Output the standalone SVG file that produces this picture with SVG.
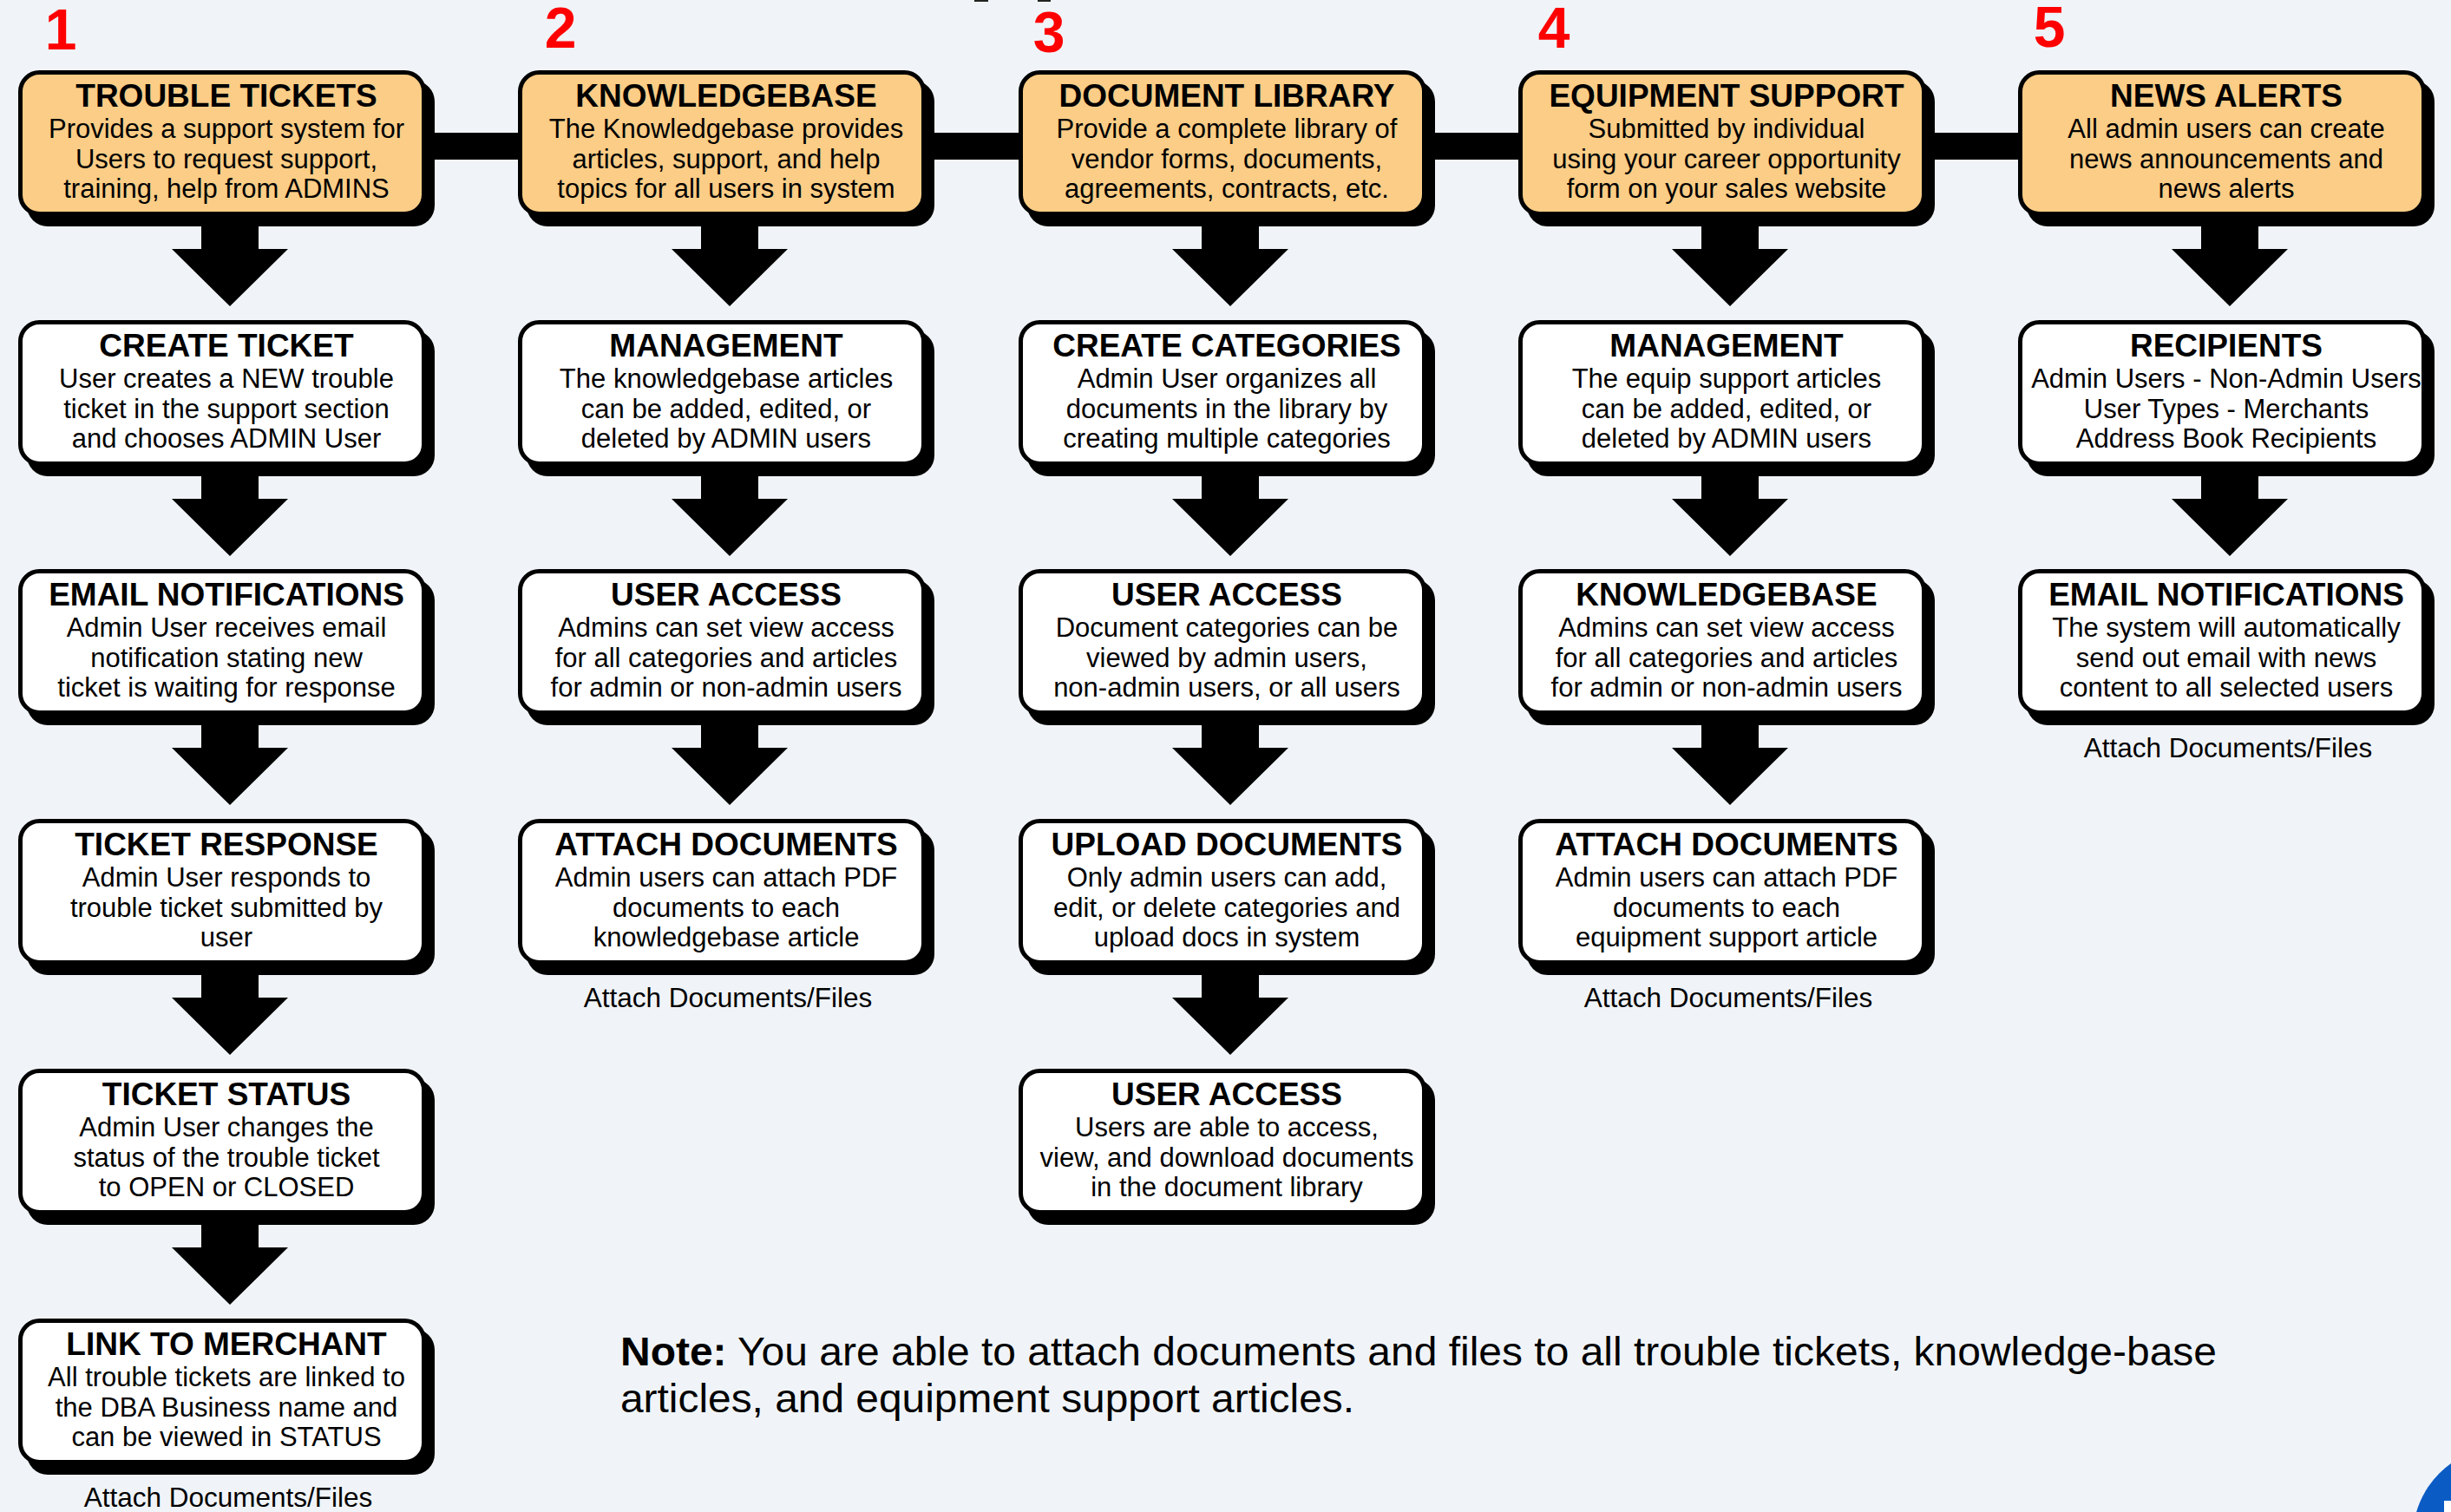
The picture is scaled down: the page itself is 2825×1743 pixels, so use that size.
<svg xmlns="http://www.w3.org/2000/svg" xmlns:xlink="http://www.w3.org/1999/xlink" width="2825" height="1743" viewBox="0 0 2825 1743">
  <style>
    .shadow { fill: #000; }
    .head { fill: #fbcd86; stroke: #000; stroke-width: 5; }
    .step { fill: #fff; stroke: #000; stroke-width: 5; }
    text { font-family: "Liberation Sans", Arial, Helvetica, sans-serif; fill: #000; }
    .t { font-weight: bold; font-size: 37px; text-anchor: middle; }
    .b { font-size: 31px; text-anchor: middle; }
    .att { font-size: 31.5px; text-anchor: middle; }
    .num { font-weight: bold; font-size: 66px; fill: #ff0000; text-anchor: middle; }
    .note { font-size: 47px; }
    .bar { fill: #000; }
  </style>
  <defs>
    <!-- block arrow, origin = centre x / top of the source box -->
    <path id="down" d="M -33 170 H 33 V 206 H 67 L 0 272 L -67 206 H -33 Z" fill="#000"/>
  </defs>

  <rect x="0" y="0" width="2825" height="1743" fill="#f0f4f8"/>

  <!-- clipped marks along the top edge -->
  <rect x="1123" y="0" width="16" height="2" fill="#222"/>
  <rect x="1196" y="0" width="15" height="2" fill="#222"/>

  <!-- section numbers -->
  <g id="numbers">
    <text class="num" x="70" y="57">1</text>
    <text class="num" x="646" y="55">2</text>
    <text class="num" x="1209" y="60">3</text>
    <text class="num" x="1791" y="55">4</text>
    <text class="num" x="2362" y="54">5</text>
  </g>

  <!-- connectors -->
  <g id="connectors">
    <rect class="bar" x="480" y="153" width="1860" height="31"/>
    <!-- column 1 -->
    <use xlink:href="#down" href="#down" x="265" y="81"/>
    <use xlink:href="#down" href="#down" x="265" y="369"/>
    <use xlink:href="#down" href="#down" x="265" y="656"/>
    <use xlink:href="#down" href="#down" x="265" y="944"/>
    <use xlink:href="#down" href="#down" x="265" y="1232"/>
    <!-- column 2 -->
    <use xlink:href="#down" href="#down" x="841" y="81"/>
    <use xlink:href="#down" href="#down" x="841" y="369"/>
    <use xlink:href="#down" href="#down" x="841" y="656"/>
    <!-- column 3 -->
    <use xlink:href="#down" href="#down" x="1418" y="81"/>
    <use xlink:href="#down" href="#down" x="1418" y="369"/>
    <use xlink:href="#down" href="#down" x="1418" y="656"/>
    <use xlink:href="#down" href="#down" x="1418" y="944"/>
    <!-- column 4 -->
    <use xlink:href="#down" href="#down" x="1994" y="81"/>
    <use xlink:href="#down" href="#down" x="1994" y="369"/>
    <use xlink:href="#down" href="#down" x="1994" y="656"/>
    <!-- column 5 -->
    <use xlink:href="#down" href="#down" x="2570" y="81"/>
    <use xlink:href="#down" href="#down" x="2570" y="369"/>
  </g>

  <!-- ===== Column 1 : trouble tickets ===== -->
  <g id="trouble-tickets" transform="translate(21,81)">
    <rect class="shadow" x="10" y="12" width="470" height="168" rx="24"/>
    <rect class="head" x="2.5" y="2.5" width="465" height="163" rx="22"/>
    <text class="t" x="240" y="42">TROUBLE TICKETS</text>
    <text class="b" x="240" y="78">Provides a support system for</text>
    <text class="b" x="240" y="112.5">Users to request support,</text>
    <text class="b" x="240" y="147">training, help from ADMINS</text>
  </g>
  <g id="create-ticket" transform="translate(21,369)">
    <rect class="shadow" x="10" y="12" width="470" height="168" rx="24"/>
    <rect class="step" x="2.5" y="2.5" width="465" height="163" rx="22"/>
    <text class="t" x="240" y="42">CREATE TICKET</text>
    <text class="b" x="240" y="78">User creates a NEW trouble</text>
    <text class="b" x="240" y="112.5">ticket in the support section</text>
    <text class="b" x="240" y="147">and chooses ADMIN User</text>
  </g>
  <g id="ticket-email-notifications" transform="translate(21,656)">
    <rect class="shadow" x="10" y="12" width="470" height="168" rx="24"/>
    <rect class="step" x="2.5" y="2.5" width="465" height="163" rx="22"/>
    <text class="t" x="240" y="42">EMAIL NOTIFICATIONS</text>
    <text class="b" x="240" y="78">Admin User receives email</text>
    <text class="b" x="240" y="112.5">notification stating new</text>
    <text class="b" x="240" y="147">ticket is waiting for response</text>
  </g>
  <g id="ticket-response" transform="translate(21,944)">
    <rect class="shadow" x="10" y="12" width="470" height="168" rx="24"/>
    <rect class="step" x="2.5" y="2.5" width="465" height="163" rx="22"/>
    <text class="t" x="240" y="42">TICKET RESPONSE</text>
    <text class="b" x="240" y="78">Admin User responds to</text>
    <text class="b" x="240" y="112.5">trouble ticket submitted by</text>
    <text class="b" x="240" y="147">user</text>
  </g>
  <g id="ticket-status" transform="translate(21,1232)">
    <rect class="shadow" x="10" y="12" width="470" height="168" rx="24"/>
    <rect class="step" x="2.5" y="2.5" width="465" height="163" rx="22"/>
    <text class="t" x="240" y="42">TICKET STATUS</text>
    <text class="b" x="240" y="78">Admin User changes the</text>
    <text class="b" x="240" y="112.5">status of the trouble ticket</text>
    <text class="b" x="240" y="147">to OPEN or CLOSED</text>
  </g>
  <g id="link-to-merchant" transform="translate(21,1520)">
    <rect class="shadow" x="10" y="12" width="470" height="168" rx="24"/>
    <rect class="step" x="2.5" y="2.5" width="465" height="163" rx="22"/>
    <text class="t" x="240" y="42">LINK TO MERCHANT</text>
    <text class="b" x="240" y="78">All trouble tickets are linked to</text>
    <text class="b" x="240" y="112.5">the DBA Business name and</text>
    <text class="b" x="240" y="147">can be viewed in STATUS</text>
    <text class="att" x="242" y="217">Attach Documents/Files</text>
  </g>

  <!-- ===== Column 2 : knowledgebase ===== -->
  <g id="knowledgebase" transform="translate(597,81)">
    <rect class="shadow" x="10" y="12" width="470" height="168" rx="24"/>
    <rect class="head" x="2.5" y="2.5" width="465" height="163" rx="22"/>
    <text class="t" x="240" y="42">KNOWLEDGEBASE</text>
    <text class="b" x="240" y="78">The Knowledgebase provides</text>
    <text class="b" x="240" y="112.5">articles, support, and help</text>
    <text class="b" x="240" y="147">topics for all users in system</text>
  </g>
  <g id="kb-management" transform="translate(597,369)">
    <rect class="shadow" x="10" y="12" width="470" height="168" rx="24"/>
    <rect class="step" x="2.5" y="2.5" width="465" height="163" rx="22"/>
    <text class="t" x="240" y="42">MANAGEMENT</text>
    <text class="b" x="240" y="78">The knowledgebase articles</text>
    <text class="b" x="240" y="112.5">can be added, edited, or</text>
    <text class="b" x="240" y="147">deleted by ADMIN users</text>
  </g>
  <g id="kb-user-access" transform="translate(597,656)">
    <rect class="shadow" x="10" y="12" width="470" height="168" rx="24"/>
    <rect class="step" x="2.5" y="2.5" width="465" height="163" rx="22"/>
    <text class="t" x="240" y="42">USER ACCESS</text>
    <text class="b" x="240" y="78">Admins can set view access</text>
    <text class="b" x="240" y="112.5">for all categories and articles</text>
    <text class="b" x="240" y="147">for admin or non-admin users</text>
  </g>
  <g id="kb-attach-documents" transform="translate(597,944)">
    <rect class="shadow" x="10" y="12" width="470" height="168" rx="24"/>
    <rect class="step" x="2.5" y="2.5" width="465" height="163" rx="22"/>
    <text class="t" x="240" y="42">ATTACH DOCUMENTS</text>
    <text class="b" x="240" y="78">Admin users can attach PDF</text>
    <text class="b" x="240" y="112.5">documents to each</text>
    <text class="b" x="240" y="147">knowledgebase article</text>
    <text class="att" x="242" y="217">Attach Documents/Files</text>
  </g>

  <!-- ===== Column 3 : document library ===== -->
  <g id="document-library" transform="translate(1174,81)">
    <rect class="shadow" x="10" y="12" width="470" height="168" rx="24"/>
    <rect class="head" x="2.5" y="2.5" width="465" height="163" rx="22"/>
    <text class="t" x="240" y="42">DOCUMENT LIBRARY</text>
    <text class="b" x="240" y="78">Provide a complete library of</text>
    <text class="b" x="240" y="112.5">vendor forms, documents,</text>
    <text class="b" x="240" y="147">agreements, contracts, etc.</text>
  </g>
  <g id="create-categories" transform="translate(1174,369)">
    <rect class="shadow" x="10" y="12" width="470" height="168" rx="24"/>
    <rect class="step" x="2.5" y="2.5" width="465" height="163" rx="22"/>
    <text class="t" x="240" y="42">CREATE CATEGORIES</text>
    <text class="b" x="240" y="78">Admin User organizes all</text>
    <text class="b" x="240" y="112.5">documents in the library by</text>
    <text class="b" x="240" y="147">creating multiple categories</text>
  </g>
  <g id="doc-user-access" transform="translate(1174,656)">
    <rect class="shadow" x="10" y="12" width="470" height="168" rx="24"/>
    <rect class="step" x="2.5" y="2.5" width="465" height="163" rx="22"/>
    <text class="t" x="240" y="42">USER ACCESS</text>
    <text class="b" x="240" y="78">Document categories can be</text>
    <text class="b" x="240" y="112.5">viewed by admin users,</text>
    <text class="b" x="240" y="147">non-admin users, or all users</text>
  </g>
  <g id="upload-documents" transform="translate(1174,944)">
    <rect class="shadow" x="10" y="12" width="470" height="168" rx="24"/>
    <rect class="step" x="2.5" y="2.5" width="465" height="163" rx="22"/>
    <text class="t" x="240" y="42">UPLOAD DOCUMENTS</text>
    <text class="b" x="240" y="78">Only admin users can add,</text>
    <text class="b" x="240" y="112.5">edit, or delete categories and</text>
    <text class="b" x="240" y="147">upload docs in system</text>
  </g>
  <g id="doc-download-access" transform="translate(1174,1232)">
    <rect class="shadow" x="10" y="12" width="470" height="168" rx="24"/>
    <rect class="step" x="2.5" y="2.5" width="465" height="163" rx="22"/>
    <text class="t" x="240" y="42">USER ACCESS</text>
    <text class="b" x="240" y="78">Users are able to access,</text>
    <text class="b" x="240" y="112.5">view, and download documents</text>
    <text class="b" x="240" y="147">in the document library</text>
  </g>

  <!-- ===== Column 4 : equipment support ===== -->
  <g id="equipment-support" transform="translate(1750,81)">
    <rect class="shadow" x="10" y="12" width="470" height="168" rx="24"/>
    <rect class="head" x="2.5" y="2.5" width="465" height="163" rx="22"/>
    <text class="t" x="240" y="42">EQUIPMENT SUPPORT</text>
    <text class="b" x="240" y="78">Submitted by individual</text>
    <text class="b" x="240" y="112.5">using your career opportunity</text>
    <text class="b" x="240" y="147">form on your sales website</text>
  </g>
  <g id="equip-management" transform="translate(1750,369)">
    <rect class="shadow" x="10" y="12" width="470" height="168" rx="24"/>
    <rect class="step" x="2.5" y="2.5" width="465" height="163" rx="22"/>
    <text class="t" x="240" y="42">MANAGEMENT</text>
    <text class="b" x="240" y="78">The equip support articles</text>
    <text class="b" x="240" y="112.5">can be added, edited, or</text>
    <text class="b" x="240" y="147">deleted by ADMIN users</text>
  </g>
  <g id="equip-knowledgebase" transform="translate(1750,656)">
    <rect class="shadow" x="10" y="12" width="470" height="168" rx="24"/>
    <rect class="step" x="2.5" y="2.5" width="465" height="163" rx="22"/>
    <text class="t" x="240" y="42">KNOWLEDGEBASE</text>
    <text class="b" x="240" y="78">Admins can set view access</text>
    <text class="b" x="240" y="112.5">for all categories and articles</text>
    <text class="b" x="240" y="147">for admin or non-admin users</text>
  </g>
  <g id="equip-attach-documents" transform="translate(1750,944)">
    <rect class="shadow" x="10" y="12" width="470" height="168" rx="24"/>
    <rect class="step" x="2.5" y="2.5" width="465" height="163" rx="22"/>
    <text class="t" x="240" y="42">ATTACH DOCUMENTS</text>
    <text class="b" x="240" y="78">Admin users can attach PDF</text>
    <text class="b" x="240" y="112.5">documents to each</text>
    <text class="b" x="240" y="147">equipment support article</text>
    <text class="att" x="242" y="217">Attach Documents/Files</text>
  </g>

  <!-- ===== Column 5 : news alerts ===== -->
  <g id="news-alerts" transform="translate(2326,81)">
    <rect class="shadow" x="10" y="12" width="470" height="168" rx="24"/>
    <rect class="head" x="2.5" y="2.5" width="465" height="163" rx="22"/>
    <text class="t" x="240" y="42">NEWS ALERTS</text>
    <text class="b" x="240" y="78">All admin users can create</text>
    <text class="b" x="240" y="112.5">news announcements and</text>
    <text class="b" x="240" y="147">news alerts</text>
  </g>
  <g id="recipients" transform="translate(2326,369)">
    <rect class="shadow" x="10" y="12" width="470" height="168" rx="24"/>
    <rect class="step" x="2.5" y="2.5" width="465" height="163" rx="22"/>
    <text class="t" x="240" y="42">RECIPIENTS</text>
    <text class="b" x="240" y="78">Admin Users - Non-Admin Users</text>
    <text class="b" x="240" y="112.5">User Types - Merchants</text>
    <text class="b" x="240" y="147">Address Book Recipients</text>
  </g>
  <g id="news-email-notifications" transform="translate(2326,656)">
    <rect class="shadow" x="10" y="12" width="470" height="168" rx="24"/>
    <rect class="step" x="2.5" y="2.5" width="465" height="163" rx="22"/>
    <text class="t" x="240" y="42">EMAIL NOTIFICATIONS</text>
    <text class="b" x="240" y="78">The system will automatically</text>
    <text class="b" x="240" y="112.5">send out email with news</text>
    <text class="b" x="240" y="147">content to all selected users</text>
    <text class="att" x="242" y="217">Attach Documents/Files</text>
  </g>

  <!-- footnote -->
  <g id="note">
    <text class="note" x="715" y="1574" textLength="1840" lengthAdjust="spacingAndGlyphs"><tspan font-weight="bold">Note:</tspan> You are able to attach documents and files to all trouble tickets, knowledge-base</text>
    <text class="note" x="715" y="1628" textLength="846" lengthAdjust="spacingAndGlyphs">articles, and equipment support articles.</text>
  </g>

  <!-- round button at the lower right corner -->
  <circle cx="2885" cy="1772" r="104" fill="#0a5bc4"/>
  <rect x="2817" y="1730" width="8" height="13" fill="#fff"/>
</svg>
